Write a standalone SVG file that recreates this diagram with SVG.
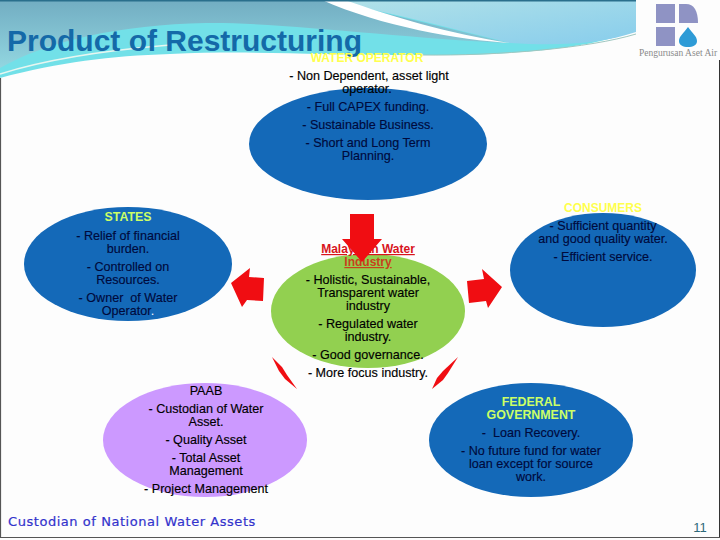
<svg xmlns="http://www.w3.org/2000/svg" width="720" height="540" viewBox="0 0 720 540">
<style>
text{font-family:"Liberation Sans",Arial,sans-serif;font-size:12.6px;text-anchor:middle;fill:#000;stroke:#000;stroke-width:.15;white-space:pre}
.blue{fill:#1469b8}
.hd{fill:#ffff4d;stroke:none;font-weight:bold;font-size:12px}
.hd2{fill:#ccff66;stroke:none;font-size:12.4px}
.bl{fill:#000a3c;stroke:#000a3c}
.red{fill:#f00d12}
</style>
<defs>
<linearGradient id="bg" x1="0" y1="0" x2="0" y2="1"><stop offset="0" stop-color="#72adc2"/><stop offset="1" stop-color="#92d6e0"/></linearGradient>
<linearGradient id="bg2" x1="0" y1="0" x2="1" y2="1"><stop offset="0" stop-color="#b2e2e8"/><stop offset="1" stop-color="#88cdec"/></linearGradient>
</defs>
<rect width="720" height="540" fill="#fdfdfd"/>
<g id="banner">
<path d="M0 78C60 62 110 56 170 54C260 50 330 56 420 55C500 56 590 50 636 30V0H0Z" fill="#72e0e8"/>
<path d="M0 68C50 40 120 25 206 23C280 22 400 38 509 43L330 0H0Z" fill="url(#bg)"/>
<path d="M325 0H636V32C600 44 560 46 510 43C450 28 390 12 325 0Z" fill="url(#bg2)"/>
<path d="M322 0H345C390 16 450 34 510 43C460 40 380 26 322 0Z" fill="#fff"/>
<path d="M0 74C50 58 110 50 170 45" fill="none" stroke="#e8f6f0" stroke-width="1.5"/>
<path d="M420 55C500 56 590 48 636 34" fill="none" stroke="#9fc7c0" stroke-width="1"/>
<rect x="0" y="0" width="636" height="1.5" fill="#2a6f8c"/>
</g>
<g id="frame"><path d="M0.5 78V537.5H720" fill="none" stroke="#555" stroke-width="1.2"/><path d="M719.5 60V537" fill="none" stroke="#333" stroke-width="1"/></g>
<g id="logo">
<rect x="656" y="4" width="19" height="19" fill="#8f93c4"/>
<path d="M679 4H686C694 4 698 11 698 23H679Z" fill="#8f93c4"/>
<rect x="656" y="27" width="19" height="19" fill="#8f93c4"/>
<path d="M688 27C692 33 697 36 697 41C697 45 693 47 688 47C683 47 679 45 679 41C679 36 684 33 688 27Z" fill="#2e9bd6"/>
<text x="678" y="56" style="font-family:'Liberation Serif',serif;font-size:9.5px;fill:#8a8a8a;stroke:none">Pengurusan Aset Air</text>
</g>
<text x="7" y="51" style="font-size:30px;font-weight:bold;fill:#1469a8;stroke:none;text-anchor:start">Product of Restructuring</text>
<g id="operator">
<ellipse cx="368" cy="144" rx="119" ry="56" class="blue"/>
<text x="367" y="62" class="hd">WATER OPERATOR</text>
<text x="369" y="80">- Non Dependent, asset light</text>
<text x="367" y="93">operator.</text>
<text x="368" y="111" class="bl">- Full CAPEX funding.</text>
<text x="368" y="129" class="bl">- Sustainable Business.</text>
<text x="368" y="147" class="bl">- Short and Long Term</text>
<text x="368" y="160" class="bl">Planning.</text>
</g>
<g id="states">
<ellipse cx="128" cy="264" rx="104" ry="57" class="blue"/>
<text x="128" y="221" class="hd hd2">STATES</text>
<text x="128" y="240" class="bl">- Relief of financial</text>
<text x="128" y="253" class="bl">burden.</text>
<text x="128" y="271" class="bl">- Controlled on</text>
<text x="128" y="284" class="bl">Resources.</text>
<text x="128" y="302" class="bl">- Owner  of Water</text>
<text x="128" y="315" class="bl">Operator<tspan style="fill:#fff;stroke:none">.</tspan></text>
</g>
<g id="consumers">
<ellipse cx="603" cy="270" rx="93" ry="57" class="blue"/>
<text x="603" y="212" class="hd">CONSUMERS</text>
<text x="603" y="230" class="bl">- Sufficient quantity</text>
<text x="603" y="243" class="bl">and good quality water.</text>
<text x="603" y="261" class="bl">- Efficient service.</text>
</g>
<g id="industry">
<ellipse cx="368" cy="311" rx="97" ry="57" fill="#92d050"/>
<text x="368" y="253" style="fill:#d8141c;stroke:none;font-weight:bold;text-decoration:underline;font-size:12px">Malaysian Water</text>
<text x="368" y="266" style="fill:#c8401c;stroke:none;font-weight:bold;text-decoration:underline;font-size:12px">Industry</text>
<text x="368" y="284">- Holistic, Sustainable,</text>
<text x="368" y="297">Transparent water</text>
<text x="368" y="310">industry</text>
<text x="368" y="328">- Regulated water</text>
<text x="368" y="341">industry.</text>
<text x="368" y="359">- Good governance.</text>
<text x="368" y="377">- More focus industry.</text>
</g>
<g id="paab">
<ellipse cx="205" cy="440" rx="102" ry="57" fill="#cc99ff"/>
<text x="206" y="395">PAAB</text>
<text x="206" y="413">- Custodian of Water</text>
<text x="206" y="426">Asset.</text>
<text x="206" y="444">- Quality Asset</text>
<text x="206" y="462">- Total Asset</text>
<text x="206" y="475">Management</text>
<text x="206" y="493">- Project Management</text>
</g>
<g id="federal">
<ellipse cx="531" cy="440" rx="102" ry="57" class="blue"/>
<text x="531" y="406" class="hd hd2">FEDERAL</text>
<text x="531" y="419" class="hd hd2">GOVERNMENT</text>
<text x="531" y="437" class="bl">-  Loan Recovery.</text>
<text x="531" y="455" class="bl">- No future fund for water</text>
<text x="531" y="468" class="bl">loan except for source</text>
<text x="531" y="481" class="bl">work.</text>
</g>
<g id="connectors">
<path class="red" d="M350 214H374V239H382L362 262L342 239H350Z"/>
<path class="red" d="M231 283L250 268L249 277L264 278L263 301L247 300L242 307Z"/>
<path class="red" d="M502 287L482 269L484 279L467 281L469 303L486 301L488 308Z"/>
<path class="red" d="M272 357L282 367L287 375L297 389L285 379L279 371Z"/>
<path class="red" d="M458 357L448 373L443 380L432 389L437 378L443 371Z"/>
</g>
<text x="700" y="532" style="fill:#2d6a7a;stroke:none;font-size:13px">11</text>
<text x="8" y="526" style="font-family:'DejaVu Sans',sans-serif;font-size:13px;letter-spacing:.55px;fill:#3333cc;stroke:#3333cc;stroke-width:.2;text-anchor:start">Custodian of National Water Assets</text>
</svg>
